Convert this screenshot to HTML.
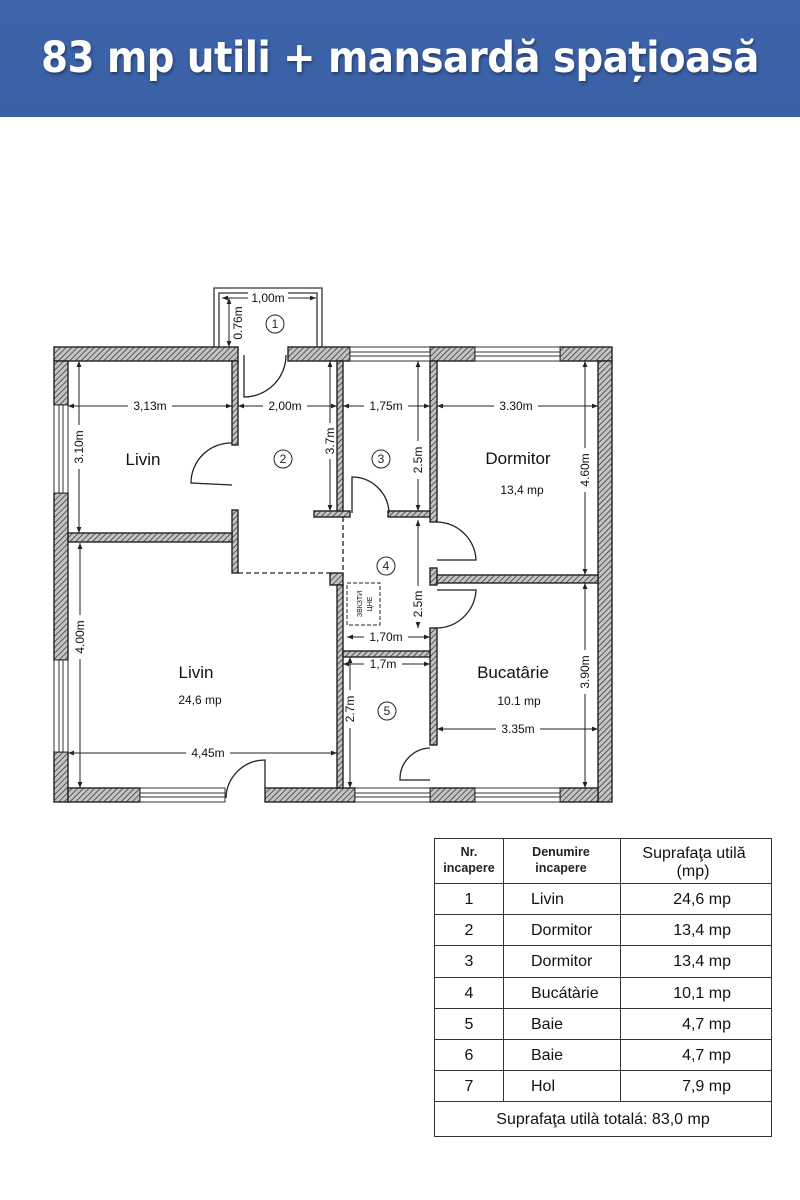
<!DOCTYPE html>
<html><head><meta charset="utf-8"><style>
body{margin:0;width:800px;height:1200px;background:#fff;overflow:hidden;font-family:"Liberation Sans",sans-serif}
.hdr{position:absolute;left:0;top:0;width:800px;height:117px;background:linear-gradient(#3d64aa,#3a60a6);}
.hdr div{position:absolute;left:0;right:0;top:33px;text-align:center;color:#fff;font:bold 43px "DejaVu Sans Condensed","Liberation Sans",sans-serif;letter-spacing:-0.5px;text-shadow:1px 2px 3px rgba(0,0,0,.4)}
svg{position:absolute;left:0;top:0}
</style></head><body>
<div class="hdr"><div>83 mp utili + mansardă spațioasă</div></div>
<svg width="800" height="1200" viewBox="0 0 800 1200" font-family="Liberation Sans, DejaVu Sans, sans-serif">
<defs>
<pattern id="h" width="4" height="4" patternUnits="userSpaceOnUse" patternTransform="rotate(45)">
<rect width="4" height="4" fill="#c4c4c4"/><line x1="0" y1="0" x2="0" y2="4" stroke="#333" stroke-width="1.5"/></pattern>
<marker id="a" viewBox="0 0 10 10" refX="10" refY="5" markerWidth="6" markerHeight="6" orient="auto-start-reverse"><path d="M0,1 L10,5 L0,9z" fill="#222"/></marker>
</defs>
<g stroke="#222" stroke-width="1.4" fill="url(#h)">
<rect x="54" y="347" width="184" height="14"/>
<rect x="288" y="347" width="62" height="14"/>
<rect x="430" y="347" width="45" height="14"/>
<rect x="560" y="347" width="52" height="14"/>
<rect x="54" y="361" width="14" height="44"/>
<rect x="54" y="493" width="14" height="167"/>
<rect x="54" y="752" width="14" height="50"/>
<rect x="598" y="361" width="14" height="441"/>
<rect x="68" y="788" width="72" height="14"/>
<rect x="265" y="788" width="90" height="14"/>
<rect x="430" y="788" width="45" height="14"/>
<rect x="560" y="788" width="38" height="14"/>
<rect x="232" y="361" width="6" height="84"/>
<rect x="232" y="510" width="6" height="63"/>
<rect x="68" y="533" width="164" height="9"/>
<rect x="337" y="361" width="6" height="152"/>
<rect x="314" y="511" width="36" height="6"/>
<rect x="388" y="511" width="42" height="6"/>
<rect x="430" y="361" width="7" height="161"/>
<rect x="430" y="568" width="7" height="17"/>
<rect x="437" y="575" width="161" height="8"/>
<rect x="430" y="628" width="7" height="117"/>
<rect x="330" y="573" width="13" height="12"/>
<rect x="337" y="585" width="6" height="203"/>
<rect x="343" y="651" width="87" height="6"/>
</g>
<g stroke="#333" stroke-width="1" fill="#fff">
<rect x="350" y="347" width="80" height="14"/><line x1="350" y1="352" x2="430" y2="352"/><line x1="350" y1="356" x2="430" y2="356"/>
<rect x="475" y="347" width="85" height="14"/><line x1="475" y1="352" x2="560" y2="352"/><line x1="475" y1="356" x2="560" y2="356"/>
<rect x="54" y="405" width="14" height="88"/><line x1="59" y1="405" x2="59" y2="493"/><line x1="63" y1="405" x2="63" y2="493"/>
<rect x="54" y="660" width="14" height="92"/><line x1="59" y1="660" x2="59" y2="752"/><line x1="63" y1="660" x2="63" y2="752"/>
<rect x="140" y="788" width="85" height="14"/><line x1="140" y1="793" x2="225" y2="793"/><line x1="140" y1="797" x2="225" y2="797"/>
<rect x="355" y="788" width="75" height="14"/><line x1="355" y1="793" x2="430" y2="793"/><line x1="355" y1="797" x2="430" y2="797"/>
<rect x="475" y="788" width="85" height="14"/><line x1="475" y1="793" x2="560" y2="793"/><line x1="475" y1="797" x2="560" y2="797"/>
<path d="M214,347 V288 H322 V347" fill="none" stroke-width="1.3"/>
<path d="M219,347 V293 H317 V347" fill="none" stroke-width="1.3"/>
</g>
<g stroke="#222" stroke-width="1.3" fill="none">
<path d="M244,355 V397 A42,42 0 0 0 286,355"/>
<path d="M232,443 A40,40 0 0 0 191,483 L232,485"/>
<path d="M352,513 V477 A37,37 0 0 1 389,513"/>
<path d="M437,522 A40,40 0 0 1 476,560 L437,560"/>
<path d="M437,628 A40,40 0 0 0 476,590 L437,590"/>
<path d="M430,748 A31,31 0 0 0 400,780 L430,780"/>
<path d="M265,788 V760 A39,39 0 0 0 226,798"/>
<path d="M238,573 H330 M343,517 V573" stroke-dasharray="5,3"/>
<rect x="347" y="583" width="33" height="42" stroke-dasharray="4,2" stroke-width="1"/>
</g>
<g stroke="#222" stroke-width="1" marker-start="url(#a)" marker-end="url(#a)">
<line x1="222" y1="298" x2="316" y2="298"/>
<line x1="229" y1="298" x2="229" y2="347"/>
<line x1="68" y1="406" x2="232" y2="406"/>
<line x1="238" y1="406" x2="337" y2="406"/>
<line x1="343" y1="406" x2="430" y2="406"/>
<line x1="437" y1="406" x2="598" y2="406"/>
<line x1="79" y1="361" x2="79" y2="533"/>
<line x1="330" y1="361" x2="330" y2="511"/>
<line x1="418" y1="361" x2="418" y2="511"/>
<line x1="585" y1="361" x2="585" y2="575"/>
<line x1="80" y1="543" x2="80" y2="788"/>
<line x1="418" y1="520" x2="418" y2="628"/>
<line x1="347" y1="637" x2="430" y2="637"/>
<line x1="343" y1="664" x2="430" y2="664"/>
<line x1="350" y1="657" x2="350" y2="788"/>
<line x1="68" y1="753" x2="337" y2="753"/>
<line x1="437" y1="729" x2="598" y2="729"/>
<line x1="585" y1="583" x2="585" y2="788"/>
</g>
<g font-size="12" fill="#111" text-anchor="middle">
<g stroke="none">
<rect x="248" y="292" width="40" height="12" fill="#fff"/>
<rect x="128" y="400" width="44" height="12" fill="#fff"/>
<rect x="263" y="400" width="44" height="12" fill="#fff"/>
<rect x="364" y="400" width="44" height="12" fill="#fff"/>
<rect x="494" y="400" width="44" height="12" fill="#fff"/>
<rect x="364" y="631" width="44" height="12" fill="#fff"/>
<rect x="364" y="658" width="38" height="12" fill="#fff"/>
<rect x="186" y="747" width="44" height="12" fill="#fff"/>
<rect x="496" y="723" width="44" height="12" fill="#fff"/>
<rect x="73" y="425" width="12" height="44" fill="#fff"/>
<rect x="324" y="423" width="12" height="36" fill="#fff"/>
<rect x="412" y="441" width="12" height="38" fill="#fff"/>
<rect x="579" y="448" width="12" height="44" fill="#fff"/>
<rect x="74" y="615" width="12" height="44" fill="#fff"/>
<rect x="412" y="586" width="12" height="36" fill="#fff"/>
<rect x="344" y="690" width="12" height="38" fill="#fff"/>
<rect x="579" y="650" width="12" height="44" fill="#fff"/>
</g>
<text x="268" y="302">1,00m</text>
<text x="150" y="410">3,13m</text>
<text x="285" y="410">2,00m</text>
<text x="386" y="410">1,75m</text>
<text x="516" y="410">3.30m</text>
<text x="386" y="641">1,70m</text>
<text x="383" y="668">1,7m</text>
<text x="208" y="757">4,45m</text>
<text x="518" y="733">3.35m</text>
<text transform="translate(242,323) rotate(-90)">0.76m</text>
<text transform="translate(83,447) rotate(-90)">3.10m</text>
<text transform="translate(334,441) rotate(-90)">3.7m</text>
<text transform="translate(422,460) rotate(-90)">2.5m</text>
<text transform="translate(589,470) rotate(-90)">4.60m</text>
<text transform="translate(84,637) rotate(-90)">4.00m</text>
<text transform="translate(422,604) rotate(-90)">2.5m</text>
<text transform="translate(354,709) rotate(-90)">2.7m</text>
<text transform="translate(589,672) rotate(-90)">3.90m</text>
<text transform="translate(362,604) rotate(-90)" font-size="7">ЗВКЗТИ</text>
<text transform="translate(372,604) rotate(-90)" font-size="7">ЦНЕ</text>
</g>
<g fill="none" stroke="#222" stroke-width="1">
<circle cx="275" cy="324" r="9"/><circle cx="283" cy="459" r="9"/><circle cx="381" cy="459" r="9"/><circle cx="386" cy="566" r="9"/><circle cx="387" cy="711" r="9"/>
</g>
<g font-size="12" fill="#222" text-anchor="middle">
<text x="275" y="328">1</text><text x="283" y="463">2</text><text x="381" y="463">3</text><text x="386" y="570">4</text><text x="387" y="715">5</text>
</g>
<g fill="#111" text-anchor="middle" font-size="17">
<text x="143" y="465">Livin</text>
<text x="518" y="464">Dormitor</text>
<text x="196" y="678">Livin</text>
<text x="513" y="678">Bucatârie</text>
<text x="522" y="494" font-size="12">13,4 mp</text>
<text x="200" y="704" font-size="12">24,6 mp</text>
<text x="519" y="705" font-size="12">10.1 mp</text>
</g>
<g stroke="#333" stroke-width="1" fill="none">
<rect x="434.5" y="838.5" width="337" height="298"/>
<line x1="503.5" y1="838" x2="503.5" y2="1101"/>
<line x1="620.5" y1="838" x2="620.5" y2="1101"/>
<line x1="434" y1="883.5" x2="772" y2="883.5"/>
<line x1="434" y1="914.5" x2="772" y2="914.5"/>
<line x1="434" y1="945.5" x2="772" y2="945.5"/>
<line x1="434" y1="977.5" x2="772" y2="977.5"/>
<line x1="434" y1="1008.5" x2="772" y2="1008.5"/>
<line x1="434" y1="1039.5" x2="772" y2="1039.5"/>
<line x1="434" y1="1070.5" x2="772" y2="1070.5"/>
<line x1="434" y1="1101.5" x2="772" y2="1101.5"/>
</g>
<g fill="#111" font-family="Liberation Sans, DejaVu Sans, sans-serif">
<g font-size="12.5" text-anchor="middle" font-weight="bold" fill="#222">
<text x="469" y="856">Nr.</text><text x="469" y="872">incapere</text>
<text x="561" y="856">Denumire</text><text x="561" y="872">incapere</text>
</g>
<g font-size="16" text-anchor="middle">
<text x="694" y="858">Suprafaţa utilă</text><text x="693" y="876">(mp)</text>
</g>
<g font-size="16" text-anchor="middle">
<text x="469" y="904">1</text><text x="469" y="935">2</text><text x="469" y="966">3</text><text x="469" y="998">4</text><text x="469" y="1029">5</text><text x="469" y="1060">6</text><text x="469" y="1091">7</text>
</g>
<g font-size="16">
<text x="531" y="904">Livin</text><text x="531" y="935">Dormitor</text><text x="531" y="966">Dormitor</text><text x="531" y="998">Bucátàrie</text><text x="531" y="1029">Baie</text><text x="531" y="1060">Baie</text><text x="531" y="1091">Hol</text>
</g>
<g font-size="16" text-anchor="end">
<text x="731" y="904">24,6 mp</text><text x="731" y="935">13,4 mp</text><text x="731" y="966">13,4 mp</text><text x="731" y="998">10,1 mp</text><text x="731" y="1029">4,7 mp</text><text x="731" y="1060">4,7 mp</text><text x="731" y="1091">7,9 mp</text>
</g>
<text x="603" y="1124" font-size="16" text-anchor="middle">Suprafaţa utilà totalá:  83,0 mp</text>
</g>
</svg>
</body></html>
